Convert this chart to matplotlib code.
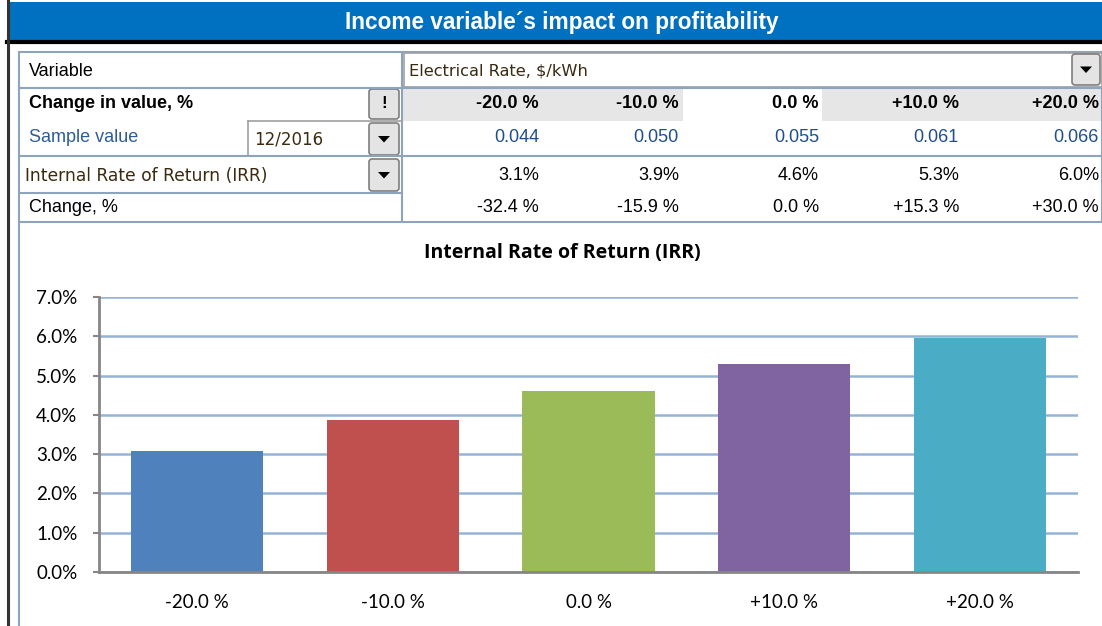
import matplotlib
matplotlib.use("Agg")
import matplotlib.pyplot as plt
from matplotlib.patches import Rectangle, FancyBboxPatch, Polygon

# --- Data ---
changes = ["-20.0 %", "-10.0 %", "0.0 %", "+10.0 %", "+20.0 %"]
sample_values = [0.044, 0.050, 0.055, 0.061, 0.066]
irr = [3.08, 3.87, 4.60, 5.29, 5.96]
irr_change = ["-32.4 %", "-15.9 %", "0.0 %", "+15.3 %", "+30.0 %"]
bar_colors = ["#4F81BD", "#C0504D", "#9BBB59", "#8064A2", "#4BACC6"]
y_ticks = [0, 1, 2, 3, 4, 5, 6, 7]

W, H = 1102, 626
fig = plt.figure(figsize=(W / 100, H / 100), dpi=100)

# --- Background canvas in pixel coords ---
bg = fig.add_axes([0, 0, 1, 1])
bg.set_xlim(0, W)
bg.set_ylim(H, 0)
bg.axis("off")

line_col = "#8EA4BE"
sans = "Liberation Sans"
fs = 13

# header band
bg.add_patch(Rectangle((9, 2), W - 9, 38, facecolor="#0070C0", edgecolor="none"))
bg.plot([7, W], [41.5, 41.5], color="black", lw=3)
bg.plot([8, 8], [0, H], color="#333333", lw=2.2)
bg.text(562, 23, "Income variable\u00b4s impact on profitability", color="white",
        fontsize=16.3, fontweight="bold", family=sans, ha="center", va="center")

# table outline + grey band behind the change row
bg.add_patch(Rectangle((403, 88), 280, 33, facecolor="#E6E6E6", edgecolor="none"))
bg.add_patch(Rectangle((822, 88), W - 822, 33, facecolor="#E6E6E6", edgecolor="none"))
bg.add_patch(Rectangle((19, 52), W - 19, 170, facecolor="none", edgecolor=line_col, lw=1.5))
bg.plot([402, 402], [52, 222], color=line_col, lw=1.5)
bg.plot([19, W], [88, 88], color=line_col, lw=1.5)
bg.plot([19, W], [156, 156], color=line_col, lw=1.5)
bg.plot([19, 402], [193, 193], color=line_col, lw=1.5)
bg.plot([248, 402], [121, 121], color="#A0A0A0", lw=1.2)
bg.plot([248, 248], [121, 156], color="#A0A0A0", lw=1.2)
bg.add_patch(Rectangle((404, 53), W - 404, 34, facecolor="white", edgecolor="#A0A0A0", lw=1.2))

# chart frame left border
bg.plot([19, 19], [222, H], color=line_col, lw=1.5)


def button(x, y, w, h, kind="down"):
    bg.add_patch(FancyBboxPatch((x + 1, y + 1), w - 2, h - 2,
                                boxstyle="round,pad=0,rounding_size=3",
                                facecolor="#E4E4E4", edgecolor="#7F7F7F", lw=1.2))
    cx, cy = x + w / 2, y + h / 2
    if kind == "down":
        bg.add_patch(Polygon([[cx - 6, cy - 3], [cx + 6, cy - 3], [cx, cy + 3.5]],
                             closed=True, facecolor="black", edgecolor="none"))
    else:
        bg.text(cx, cy, "!", fontsize=12, fontweight="bold", family=sans,
                ha="center", va="center")


button(368, 88, 32, 32, "bang")
button(368, 122, 32, 34)
button(368, 158, 32, 34)
button(1071, 53, 30, 33)

# row labels
bg.text(29, 71, "Variable", fontsize=fs, family=sans, va="center")
bg.text(29, 104, "Change in value, %", fontsize=fs, fontweight="bold", family=sans, va="center")
bg.text(29, 138, "Sample value", fontsize=fs, family=sans, color="#2E5C9A", va="center")
bg.text(254, 139, "12/2016", fontsize=12, family="DejaVu Sans", color="#3A2A10", va="center")
bg.text(25, 176, "Internal Rate of Return (IRR)", fontsize=12.3, family="DejaVu Sans",
        color="#3A2A10", va="center")
bg.text(29, 207, "Change, %", fontsize=fs, family=sans, va="center")
bg.text(409, 71, "Electrical Rate, $/kWh", fontsize=11.7, family="DejaVu Sans",
        color="#3A2A10", va="center")

# value columns
col_right = [539, 679, 819, 959, 1099]
for i in range(len(changes)):
    x = col_right[i]
    bg.text(x, 104, changes[i], fontsize=fs, fontweight="bold", family=sans, ha="right", va="center")
    bg.text(x, 138, f"{sample_values[i]:.3f}", fontsize=fs, family=sans, color="#1F4E8C",
            ha="right", va="center")
    bg.text(x, 176, f"{irr[i]:.1f}%", fontsize=fs, family=sans, ha="right", va="center")
    bg.text(x, 207, irr_change[i], fontsize=fs, family=sans, ha="right", va="center")

# chart title
bg.text(562, 253, "Internal Rate of Return (IRR)", fontsize=14, fontweight="bold",
        family="Open Sans", ha="center", va="center")

# --- Bar chart ---
x0, x1, y_top, y_bot = 99, 1078, 297, 572
ax = fig.add_axes([x0 / W, (H - y_bot) / H, (x1 - x0) / W, (y_bot - y_top) / H])
ax.bar(range(len(changes)), irr, width=0.675, color=bar_colors, zorder=3)
ax.set_xlim(-0.5, len(changes) - 0.5)
ax.set_ylim(0, 7)
ax.set_yticks(y_ticks)
ax.set_yticklabels([f"{v:.1f}%" for v in y_ticks], family="Lato", fontsize=13.5)
ax.set_xticks(range(len(changes)))
ax.set_xticklabels(changes, family="Lato", fontsize=13.5)
ax.tick_params(axis="x", length=0, pad=16)
ax.tick_params(axis="y", length=4.5, width=1.5, color="#868686", pad=11)
ax.grid(axis="y", color="#95B3D7", lw=1.8, zorder=0)
for s in ["top", "right"]:
    ax.spines[s].set_visible(False)
for s in ["left", "bottom"]:
    ax.spines[s].set_color("#868686")
    ax.spines[s].set_linewidth(2)
    ax.spines[s].set_zorder(4)

fig.savefig("out.png", dpi=100)
